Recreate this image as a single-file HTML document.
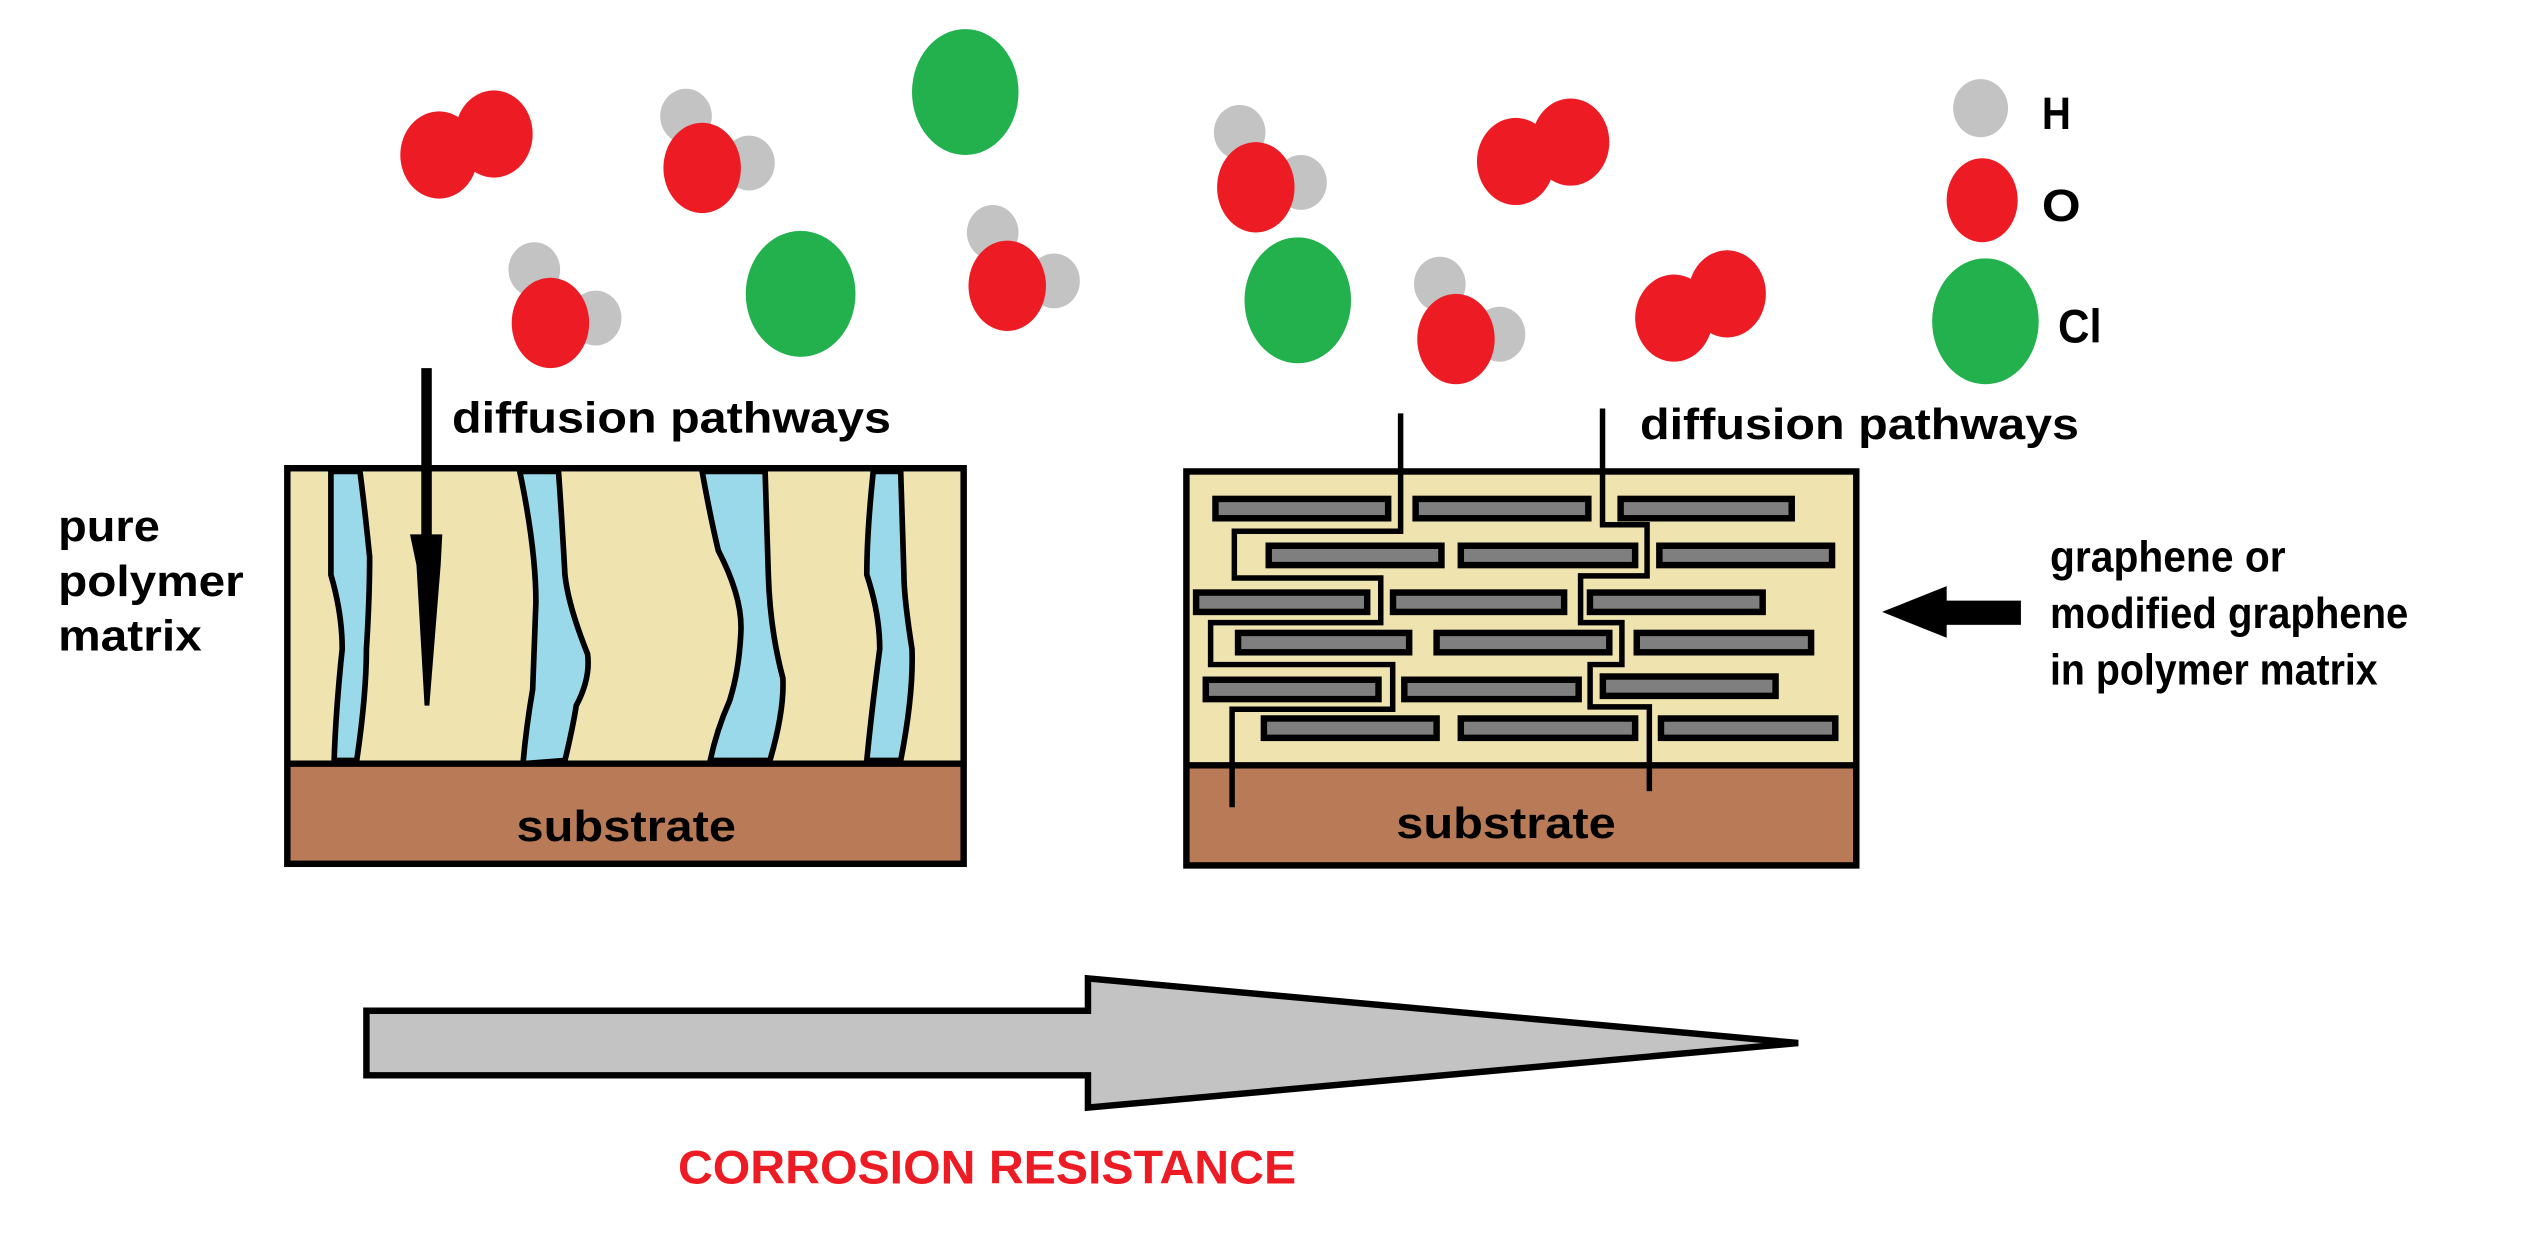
<!DOCTYPE html>
<html><head><meta charset="utf-8"><style>
html,body{margin:0;padding:0;background:#fff;}
svg{display:block;}
text{font-family:"Liberation Sans",Arial,sans-serif;font-weight:bold;}
</style></head><body>
<svg width="2531" height="1240" viewBox="0 0 1568 768" preserveAspectRatio="none" xmlns="http://www.w3.org/2000/svg">
<rect width="1568" height="768" fill="#fff"/>
<g>
<ellipse cx="272" cy="96" rx="24" ry="27" fill="#ed1c24"/>
<ellipse cx="306" cy="83" rx="24" ry="27" fill="#ed1c24"/>
<ellipse cx="425" cy="72" rx="16" ry="17" fill="#c3c3c3"/>
<ellipse cx="464" cy="101" rx="16" ry="17" fill="#c3c3c3"/>
<ellipse cx="435" cy="104" rx="24" ry="28" fill="#ed1c24"/>
<ellipse cx="598" cy="57" rx="33" ry="39" fill="#22b14c"/>
<ellipse cx="331" cy="167" rx="16" ry="17" fill="#c3c3c3"/>
<ellipse cx="369" cy="197" rx="16" ry="17" fill="#c3c3c3"/>
<ellipse cx="341" cy="200" rx="24" ry="28" fill="#ed1c24"/>
<ellipse cx="496" cy="182" rx="34" ry="39" fill="#22b14c"/>
<ellipse cx="615" cy="144" rx="16" ry="17" fill="#c3c3c3"/>
<ellipse cx="653" cy="174" rx="16" ry="17" fill="#c3c3c3"/>
<ellipse cx="624" cy="177" rx="24" ry="28" fill="#ed1c24"/>
<ellipse cx="768" cy="82" rx="16" ry="17" fill="#c3c3c3"/>
<ellipse cx="806" cy="113" rx="16" ry="17" fill="#c3c3c3"/>
<ellipse cx="778" cy="116" rx="24" ry="28" fill="#ed1c24"/>
<ellipse cx="939" cy="100" rx="24" ry="27" fill="#ed1c24"/>
<ellipse cx="973" cy="88" rx="24" ry="27" fill="#ed1c24"/>
<ellipse cx="804" cy="186" rx="33" ry="39" fill="#22b14c"/>
<ellipse cx="892" cy="176" rx="16" ry="17" fill="#c3c3c3"/>
<ellipse cx="929" cy="207" rx="16" ry="17" fill="#c3c3c3"/>
<ellipse cx="902" cy="210" rx="24" ry="28" fill="#ed1c24"/>
<ellipse cx="1037" cy="197" rx="24" ry="27" fill="#ed1c24"/>
<ellipse cx="1070" cy="182" rx="24" ry="27" fill="#ed1c24"/>
<ellipse cx="1227" cy="67" rx="17" ry="18" fill="#c3c3c3"/>
<ellipse cx="1228" cy="124" rx="22" ry="26" fill="#ed1c24"/>
<ellipse cx="1230" cy="199" rx="33" ry="39" fill="#22b14c"/>
<text x="1265" y="80" font-size="28" textLength="18" lengthAdjust="spacingAndGlyphs">H</text>
<text x="1265" y="137" font-size="28" textLength="24" lengthAdjust="spacingAndGlyphs">O</text>
<text x="1275" y="212" font-size="29" textLength="27" lengthAdjust="spacingAndGlyphs">Cl</text>
</g>
<rect x="178" y="290" width="419" height="183" fill="#efe4b0"/>
<rect x="178" y="473" width="419" height="62" fill="#b97a57"/>
<g fill="#99d9ea" stroke="#000" stroke-width="3.5">
<path d="M205,292 Q205,330 205,356 Q212,380 212,402 Q208,440 207,471 L221,471 Q227,430 227,402 Q229,370 229,345 Q226,315 223,292 Z"/>
<path d="M322,292 Q332,340 332,373 Q331,400 330,427 Q326,450 324,473 L350,471 Q355,450 357,437 Q366,420 364,405 Q352,375 350,356 Q348,320 346,292 Z"/>
<path d="M435,292 Q440,320 445,341 Q460,370 459,391 Q458,415 452,434 Q444,452 440,471 L477,471 Q486,440 485,420 Q477,390 476,356 Q475,320 474,292 Z"/>
<path d="M541,292 Q537,330 537,356 Q545,380 545,402 Q540,440 537,471 L558,471 Q566,430 565,402 Q560,370 560,356 Q559,320 558,292 Z"/>
</g>
<rect x="178" y="290" width="419" height="245" fill="none" stroke="#000" stroke-width="4"/>
<line x1="178" y1="473" x2="597" y2="473" stroke="#000" stroke-width="4"/>
<rect x="261" y="228" width="6.5" height="104" fill="#000"/>
<path d="M254,331 L274,331 L273,350 L266,437 L263,437 L258,350 Z" fill="#000"/>
<text x="280" y="268" font-size="27" textLength="272" lengthAdjust="spacingAndGlyphs">diffusion pathways</text>
<text x="36" y="335" font-size="27" textLength="63" lengthAdjust="spacingAndGlyphs">pure</text>
<text x="36" y="369" font-size="27" textLength="115" lengthAdjust="spacingAndGlyphs">polymer</text>
<text x="36" y="403" font-size="27" textLength="89" lengthAdjust="spacingAndGlyphs">matrix</text>
<text x="320" y="521" font-size="27" textLength="136" lengthAdjust="spacingAndGlyphs">substrate</text>
<rect x="735" y="292" width="415" height="182" fill="#efe4b0"/>
<rect x="735" y="474" width="415" height="62" fill="#b97a57"/>
<g fill="#7f7f7f" stroke="#000" stroke-width="4">
<rect x="753" y="309" width="107" height="12"/><rect x="877" y="309" width="107" height="12"/><rect x="1004" y="309" width="106" height="12"/>
<rect x="786" y="338" width="107" height="12"/><rect x="905" y="338" width="108" height="12"/><rect x="1028" y="338" width="107" height="12"/>
<rect x="741" y="367" width="106" height="12"/><rect x="863" y="367" width="106" height="12"/><rect x="985" y="367" width="107" height="12"/>
<rect x="767" y="392" width="106" height="12"/><rect x="890" y="392" width="107" height="12"/><rect x="1014" y="392" width="108" height="12"/>
<rect x="747" y="421" width="107" height="12"/><rect x="870" y="421" width="108" height="12"/><rect x="993" y="419" width="107" height="12"/>
<rect x="783" y="445" width="107" height="12"/><rect x="905" y="445" width="108" height="12"/><rect x="1029" y="445" width="108" height="12"/>
</g>
<g fill="none" stroke="#000" stroke-width="3.4">
<polyline points="867.7,256 867.7,329 764.7,329 764.7,358 855.4,358 855.4,385.6 750,385.6 750,411.6 862.8,411.6 862.8,439.3 763.3,439.3 763.3,500"/>
<polyline points="992.8,253 992.8,325 1020.4,325 1020.4,356.7 979.2,356.7 979.2,385.6 1004.8,385.6 1004.8,411.6 985.1,411.6 985.1,437.8 1021.8,437.8 1021.8,490"/>
</g>
<rect x="735" y="292" width="415" height="244" fill="none" stroke="#000" stroke-width="4"/>
<line x1="735" y1="474" x2="1150" y2="474" stroke="#000" stroke-width="4"/>
<text x="1016" y="272" font-size="27" textLength="272" lengthAdjust="spacingAndGlyphs">diffusion pathways</text>
<text x="865" y="519" font-size="27" textLength="136" lengthAdjust="spacingAndGlyphs">substrate</text>
<rect x="1203" y="372" width="49" height="15" fill="#000"/>
<path d="M1166,379 L1206,363 L1206,395 Z" fill="#000"/>
<text x="1270" y="354" font-size="27" textLength="146" lengthAdjust="spacingAndGlyphs">graphene or</text>
<text x="1270" y="389" font-size="27" textLength="222" lengthAdjust="spacingAndGlyphs">modified graphene</text>
<text x="1270" y="424" font-size="27" textLength="203" lengthAdjust="spacingAndGlyphs">in polymer matrix</text>
<path d="M227,626 L674,626 L674,606 L1114,646 L674,686 L674,666 L227,666 Z" fill="#c3c3c3" stroke="#000" stroke-width="4" stroke-linejoin="miter"/>
<text x="420" y="733" font-size="29" fill="#ed1c24" textLength="383" lengthAdjust="spacingAndGlyphs">CORROSION RESISTANCE</text>
</svg>
</body></html>
